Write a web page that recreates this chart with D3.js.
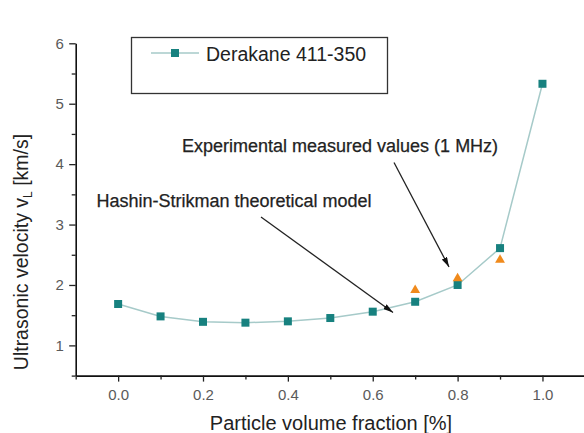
<!DOCTYPE html>
<html><head><meta charset="utf-8">
<script src="https://cdn.jsdelivr.net/npm/d3@7"></script>
<style>
html,body{margin:0;padding:0;background:#fff;}
svg{display:block;font-family:"Liberation Sans",Arial,sans-serif;}
</style></head>
<body>
<svg id="chart" width="584" height="433"></svg>
<script>
// ---- data ----
const fractions = [0.0, 0.1, 0.2, 0.3, 0.4, 0.5, 0.6, 0.7, 0.8, 0.9, 1.0];
const modelVelocity = [1.685, 1.48, 1.39, 1.376, 1.398, 1.453, 1.558, 1.722, 2.0, 2.61, 5.33];
const expFractions = [0.7, 0.8, 0.9];
const expVelocity = [1.915, 2.11, 2.415];
const xTicks = [0.0, 0.2, 0.4, 0.6, 0.8, 1.0];
const xMinor = [-0.1, 0.1, 0.3, 0.5, 0.7, 0.9, 1.1];
const yTicks = [1, 2, 3, 4, 5, 6];
const yMinor = [0.5, 1.5, 2.5, 3.5, 4.5, 5.5];
const seriesName = "Derakane 411-350";
const noteModel = "Hashin-Strikman theoretical model";
const noteExp = "Experimental measured values (1 MHz)";

const svg = d3.select("#chart");
const x = d3.scaleLinear().domain([-0.1, 1.1]).range([75.7, 584.9]);
const y = d3.scaleLinear().domain([0.5, 6]).range([375.6, 43.3]);

const teal = "#17817f", lineCol = "#a6cac9", orange = "#f08a1c";

// axes
const xAxisG = svg.append("g").attr("transform", `translate(0,${y(0.5)})`);
xAxisG.call(d3.axisBottom(x).tickValues(xTicks).tickFormat(d3.format(".1f")).tickSize(6).tickSizeOuter(0));
const xMinG = svg.append("g").attr("transform", `translate(0,${y(0.5)})`);
xMinG.call(d3.axisBottom(x).tickValues(xMinor).tickFormat("").tickSize(4).tickSizeOuter(0));
xMinG.select(".domain").remove();

const yAxisG = svg.append("g").attr("transform", `translate(${x(-0.1)},0)`);
yAxisG.call(d3.axisLeft(y).tickValues(yTicks).tickFormat(d3.format("d")).tickSize(6.5).tickSizeOuter(0));
const yMinG = svg.append("g").attr("transform", `translate(${x(-0.1)},0)`);
yMinG.call(d3.axisLeft(y).tickValues(yMinor).tickFormat("").tickSize(4).tickSizeOuter(0));
yMinG.select(".domain").remove();

svg.selectAll(".domain").attr("stroke", "#111").attr("stroke-width", 1.6);
svg.selectAll(".tick line").attr("stroke", "#222").attr("stroke-width", 1.3);
xAxisG.selectAll(".tick text").attr("font-size", 15).attr("fill", "#5a5a5a").attr("dy", "1.05em")
  .attr("font-family", "Liberation Sans, Arial, sans-serif");
yAxisG.selectAll(".tick text").attr("font-size", 15).attr("fill", "#5a5a5a").attr("dx", "-0.15em")
  .attr("font-family", "Liberation Sans, Arial, sans-serif");

// axis titles
svg.append("text").attr("x", 331).attr("y", 430).attr("text-anchor", "middle")
  .attr("font-size", 20).attr("fill", "#222").text("Particle volume fraction [%]");
const yt = svg.append("text").attr("transform", "translate(27.5,252) rotate(-90)")
  .attr("text-anchor", "middle").attr("font-size", 19.5).attr("fill", "#222");
yt.append("tspan").text("Ultrasonic velocity v");
yt.append("tspan").attr("font-size", 12).attr("dy", 4).text("L");
yt.append("tspan").attr("dy", -4).text(" [km/s]");

// model curve
const pts = fractions.map((f, i) => [f, modelVelocity[i]]);
const line = d3.line().x(d => x(d[0])).y(d => y(d[1])).curve(d3.curveLinear);
svg.append("path").attr("d", line(pts)).attr("fill", "none").attr("stroke", lineCol).attr("stroke-width", 1.5);

const sq = 8;
svg.selectAll("rect.pt").data(pts).enter().append("rect").attr("class", "pt")
  .attr("x", d => x(d[0]) - sq / 2).attr("y", d => y(d[1]) - sq / 2)
  .attr("width", sq).attr("height", sq).attr("fill", teal);

// experimental triangles
const tri = d3.symbol().type(d3.symbolTriangle).size(42);
svg.selectAll("path.tri").data(expFractions.map((f, i) => [f, expVelocity[i]])).enter()
  .append("path").attr("class", "tri")
  .attr("transform", d => `translate(${x(d[0])},${y(d[1])})`)
  .attr("d", tri).attr("fill", orange);

// legend
svg.append("rect").attr("x", 131.5).attr("y", 37.5).attr("width", 256).attr("height", 56)
  .attr("fill", "#fff").attr("stroke", "#333").attr("stroke-width", 1.3);
svg.append("line").attr("x1", 151).attr("x2", 199).attr("y1", 53).attr("y2", 53)
  .attr("stroke", lineCol).attr("stroke-width", 1.5);
svg.append("rect").attr("x", 175 - sq / 2).attr("y", 53 - sq / 2).attr("width", sq).attr("height", sq).attr("fill", teal);
svg.append("text").attr("x", 206).attr("y", 60.5).attr("font-size", 19.5).attr("fill", "#222").text(seriesName);

// annotations
svg.append("defs").append("marker").attr("id", "ah").attr("viewBox", "0 0 10 6")
  .attr("refX", 10).attr("refY", 3).attr("markerWidth", 10).attr("markerHeight", 6)
  .attr("markerUnits", "userSpaceOnUse").attr("orient", "auto")
  .append("path").attr("d", "M0,0 L10,3 L0,6 Z").attr("fill", "#111");

svg.append("text").attr("x", 96.5).attr("y", 207).attr("font-size", 18).attr("fill", "#222")
  .attr("stroke", "#222").attr("stroke-width", 0.25).text(noteModel);
svg.append("text").attr("x", 182).attr("y", 152).attr("font-size", 18).attr("fill", "#222")
  .attr("stroke", "#222").attr("stroke-width", 0.25).text(noteExp);

svg.append("line").attr("x1", 261).attr("y1", 217).attr("x2", 393).attr("y2", 312.5)
  .attr("stroke", "#222").attr("stroke-width", 1.3).attr("marker-end", "url(#ah)");
svg.append("line").attr("x1", 394).attr("y1", 162.5).attr("x2", 449).attr("y2", 267)
  .attr("stroke", "#222").attr("stroke-width", 1.3).attr("marker-end", "url(#ah)");
</script>
</body></html>
